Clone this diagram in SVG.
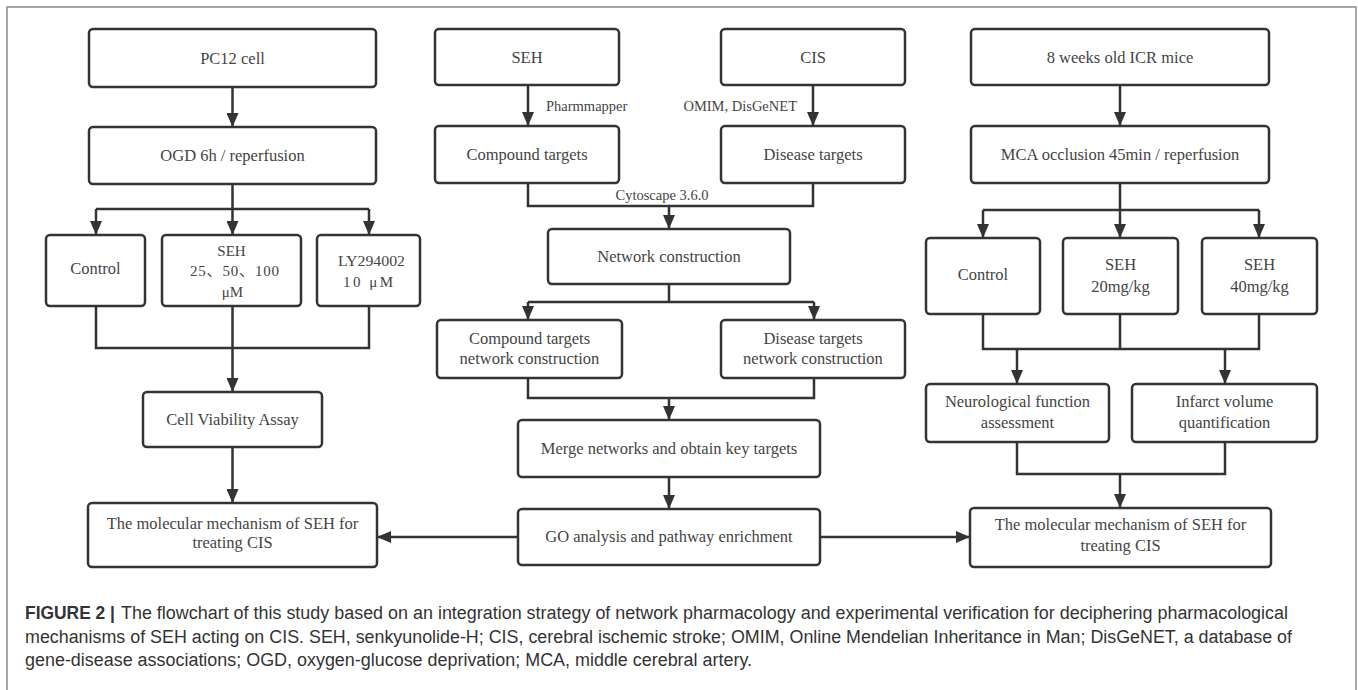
<svg xmlns="http://www.w3.org/2000/svg" width="1358" height="690" viewBox="0 0 1358 690">
<style>
.box{fill:#fff;stroke:#333;stroke-width:2.5}
.t{font-family:"Liberation Serif","Times New Roman",serif;font-size:16.5px;fill:#444;text-anchor:middle}
.s{font-family:"Liberation Serif","Noto Sans CJK SC",serif;font-size:15px;fill:#444;text-anchor:middle}
.lbl{font-family:"Liberation Serif","Times New Roman",serif;font-size:14.5px;fill:#444}
.c{fill:none;stroke:#333;stroke-width:2.5}
.a{marker-end:url(#arr)}
.cap{font-family:"Liberation Sans",Arial,sans-serif;font-size:18px;fill:#333}
</style>
<defs>
<marker id="arr" markerUnits="userSpaceOnUse" markerWidth="14" markerHeight="12" refX="14" refY="6" orient="auto">
<path d="M0,0 L14,6 L0,12 z" fill="#333"/>
</marker>
</defs>
<rect x="7" y="7" width="1349" height="700" fill="#fff" stroke="#8a8a8a" stroke-width="1.5"/>

<g id="connectors">
<path class="c a" d="M232.5,87 V127"/>
<path class="c" d="M232.5,184 V209 M96,209 H369"/>
<path class="c a" d="M96,209 V235"/>
<path class="c a" d="M232.5,209 V235"/>
<path class="c a" d="M369,209 V235"/>
<path class="c" d="M96,306 V348 H369 V306"/>
<path class="c a" d="M232.5,306 V392"/>
<path class="c a" d="M232.5,447 V503"/>

<path class="c a" d="M528,85 V126"/>
<path class="c a" d="M813,85 V126"/>
<path class="c" d="M528,183 V206 H813 V183"/>
<path class="c a" d="M669,206 V229"/>
<path class="c" d="M669,284 V302 M528,302 H814"/>
<path class="c a" d="M528,302 V320"/>
<path class="c a" d="M814,302 V320"/>
<path class="c" d="M528,378 V398 H814 V378"/>
<path class="c a" d="M669,398 V420"/>
<path class="c a" d="M669,477 V509"/>
<path class="c a" d="M518,537 H377"/>
<path class="c a" d="M820,537 H970"/>

<path class="c a" d="M1120,85 V126"/>
<path class="c" d="M1120,183 V210 M983,210 H1259"/>
<path class="c a" d="M983,210 V238"/>
<path class="c a" d="M1120,210 V238"/>
<path class="c a" d="M1259,210 V238"/>
<path class="c" d="M983,314 V349 H1259 V314 M1120,314 V349"/>
<path class="c a" d="M1017,349 V384"/>
<path class="c a" d="M1225,349 V384"/>
<path class="c" d="M1017,442 V474 H1225 V442"/>
<path class="c a" d="M1120,474 V508"/>

<text class="lbl" x="546" y="110.5">Pharmmapper</text>
<text class="lbl" x="797" y="110.5" text-anchor="end">OMIM, DisGeNET</text>
<text class="lbl" x="662" y="199.5" text-anchor="middle">Cytoscape 3.6.0</text>
</g>

<g id="pc12"><rect class="box" x="89" y="29" width="287" height="58" rx="4"/><text class="t" x="232.5" y="63.5">PC12 cell</text></g>
<g id="ogd"><rect class="box" x="89" y="127" width="287" height="57" rx="4"/><text class="t" x="232.5" y="161">OGD 6h / reperfusion</text></g>
<g id="ctrl1"><rect class="box" x="46" y="235" width="99" height="71" rx="4"/><text class="t" x="95.5" y="274">Control</text></g>
<g id="seh1"><rect class="box" x="162" y="235" width="139" height="71" rx="4"/><text class="s" x="231.5" y="256">SEH</text><text class="s" x="234.5" y="276" textLength="89" lengthAdjust="spacing">25、50、100</text><text class="s" x="232.5" y="297">μM</text></g>
<g id="ly"><rect class="box" x="317" y="235" width="103" height="71" rx="4"/><text class="s" x="371.5" y="266" textLength="67" lengthAdjust="spacingAndGlyphs">LY294002</text><text class="s" x="368" y="287" textLength="50" lengthAdjust="spacing">10 μM</text></g>
<g id="cva"><rect class="box" x="143" y="392" width="179" height="55" rx="4"/><text class="t" x="232.5" y="425">Cell Viability Assay</text></g>
<g id="mech1"><rect class="box" x="88" y="503" width="289" height="64" rx="4"/><text class="t" x="232.5" y="529">The molecular mechanism of SEH for</text><text class="t" x="232.5" y="548">treating CIS</text></g>

<g id="seh"><rect class="box" x="435" y="29" width="184" height="56" rx="4"/><text class="t" x="527" y="62.5">SEH</text></g>
<g id="cis"><rect class="box" x="721" y="29" width="184" height="56" rx="4"/><text class="t" x="813" y="62.5">CIS</text></g>
<g id="ct"><rect class="box" x="435" y="126" width="184" height="57" rx="4"/><text class="t" x="527" y="160">Compound targets</text></g>
<g id="dt"><rect class="box" x="721" y="126" width="184" height="57" rx="4"/><text class="t" x="813" y="160">Disease targets</text></g>
<g id="nc"><rect class="box" x="548" y="229" width="242" height="55" rx="4"/><text class="t" x="669" y="261.5">Network construction</text></g>
<g id="ctnc"><rect class="box" x="437" y="320" width="185" height="58" rx="4"/><text class="t" x="529.5" y="343.5">Compound targets</text><text class="t" x="529.5" y="363.5">network construction</text></g>
<g id="dtnc"><rect class="box" x="721" y="320" width="184" height="58" rx="4"/><text class="t" x="813" y="343.5">Disease targets</text><text class="t" x="813" y="363.5">network construction</text></g>
<g id="merge"><rect class="box" x="518" y="420" width="302" height="57" rx="4"/><text class="t" x="669" y="453.5">Merge networks and obtain key targets</text></g>
<g id="go"><rect class="box" x="518" y="509" width="302" height="56" rx="4"/><text class="t" x="669" y="542">GO analysis and pathway enrichment</text></g>

<g id="mice"><rect class="box" x="971" y="29" width="298" height="56" rx="4"/><text class="t" x="1120" y="62.5">8 weeks old ICR mice</text></g>
<g id="mca"><rect class="box" x="971" y="126" width="298" height="57" rx="4"/><text class="t" x="1120" y="160">MCA occlusion 45min / reperfusion</text></g>
<g id="ctrl2"><rect class="box" x="926" y="238" width="114" height="76" rx="4"/><text class="t" x="983" y="280">Control</text></g>
<g id="seh20"><rect class="box" x="1063" y="238" width="115" height="76" rx="4"/><text class="t" x="1120.5" y="270">SEH</text><text class="t" x="1120.5" y="292">20mg/kg</text></g>
<g id="seh40"><rect class="box" x="1202" y="238" width="115" height="76" rx="4"/><text class="t" x="1259.5" y="270">SEH</text><text class="t" x="1259.5" y="292">40mg/kg</text></g>
<g id="neuro"><rect class="box" x="926" y="384" width="183" height="58" rx="4"/><text class="t" x="1017.5" y="407">Neurological function</text><text class="t" x="1017.5" y="428">assessment</text></g>
<g id="infarct"><rect class="box" x="1132" y="384" width="185" height="58" rx="4"/><text class="t" x="1224.5" y="407">Infarct volume</text><text class="t" x="1224.5" y="428">quantification</text></g>
<g id="mech2"><rect class="box" x="970" y="508" width="301" height="59" rx="4"/><text class="t" x="1120.5" y="530">The molecular mechanism of SEH for</text><text class="t" x="1120.5" y="551">treating CIS</text></g>

<g id="caption">
<text class="cap" x="25" y="619" font-weight="bold" textLength="90" lengthAdjust="spacingAndGlyphs">FIGURE 2 |</text>
<text class="cap" x="121" y="619" textLength="1167" lengthAdjust="spacingAndGlyphs">The flowchart of this study based on an integration strategy of network pharmacology and experimental verification for deciphering pharmacological</text>
<text class="cap" x="25" y="643" textLength="1267" lengthAdjust="spacingAndGlyphs">mechanisms of SEH acting on CIS. SEH, senkyunolide-H; CIS, cerebral ischemic stroke; OMIM, Online Mendelian Inheritance in Man; DisGeNET, a database of</text>
<text class="cap" x="25" y="666" textLength="727" lengthAdjust="spacingAndGlyphs">gene-disease associations; OGD, oxygen-glucose deprivation; MCA, middle cerebral artery.</text>
</g>
</svg>
